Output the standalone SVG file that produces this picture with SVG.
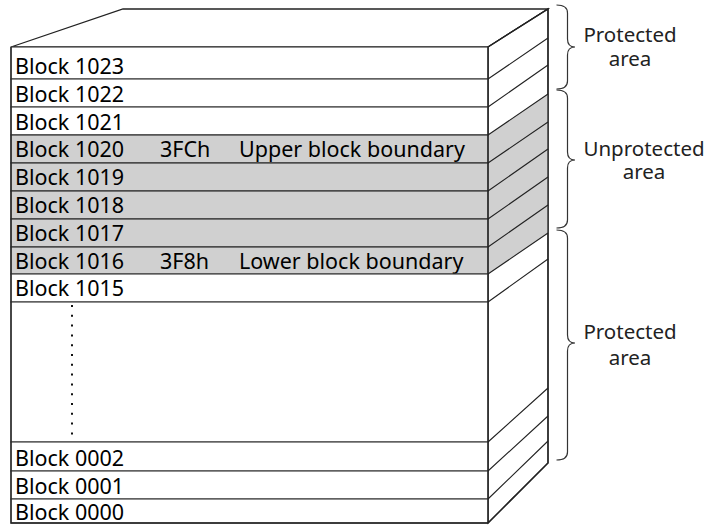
<svg xmlns="http://www.w3.org/2000/svg" width="711" height="527" viewBox="0 0 711 527">
<style>
.row{fill:#fff;stroke:#444;stroke-width:1.2}
.sel{fill:#d0d0d0;stroke:#333;stroke-width:1.2}
.edge{fill:none;stroke:#222;stroke-width:1.3}
.diag{fill:none;stroke:#222;stroke-width:1.1}
.brace{fill:none;stroke:#333;stroke-width:1.2}
text{font-family:"Noto Sans","Open Sans","DejaVu Sans",sans-serif;font-size:21.5px;fill:#000}
.lbl{text-anchor:middle;font-size:20.5px;fill:#222}
</style>
<rect width="711" height="527" fill="#fff"/>
<g id="top-face"><polygon points="11,47 123,9 548,9 488,47" fill="#fff" stroke="#222" stroke-width="1.3"/></g>
<g id="side-face">
<polygon points="488,47 548,9 548,463 488,523" fill="#fff" stroke="#222" stroke-width="1.3"/>
<polygon points="488,135 548,94 548,233 488,274" fill="#d0d0d0" stroke="none"/>
</g>
<g id="b1023"><rect class="row" x="11" y="47" width="477" height="32"/><text x="15" y="74">Block 1023</text></g>
<g id="b1022"><rect class="row" x="11" y="79" width="477" height="28"/><text x="15" y="102">Block 1022</text></g>
<g id="b1021"><rect class="row" x="11" y="107" width="477" height="28"/><text x="15" y="130">Block 1021</text></g>
<g id="b1020"><rect class="sel" x="11" y="135" width="477" height="28"/><text x="15" y="157">Block 1020</text><text x="160" y="157">3FCh</text><text x="239" y="157">Upper block boundary</text></g>
<g id="b1019"><rect class="sel" x="11" y="163" width="477" height="28"/><text x="15" y="185">Block 1019</text></g>
<g id="b1018"><rect class="sel" x="11" y="191" width="477" height="28"/><text x="15" y="213">Block 1018</text></g>
<g id="b1017"><rect class="sel" x="11" y="219" width="477" height="28"/><text x="15" y="241">Block 1017</text></g>
<g id="b1016"><rect class="sel" x="11" y="247" width="477" height="27"/><text x="15" y="269">Block 1016</text><text x="160" y="269">3F8h</text><text x="239" y="269">Lower block boundary</text></g>
<g id="b1015"><rect class="row" x="11" y="274" width="477" height="28"/><text x="15" y="296">Block 1015</text></g>
<g id="gap"><rect class="row" x="11" y="302" width="477" height="140"/><line x1="72" y1="305" x2="72" y2="438" stroke="#111" stroke-width="2" stroke-dasharray="2 7.8"/></g>
<g id="b0002"><rect class="row" x="11" y="442" width="477" height="29"/><text x="15" y="466">Block 0002</text></g>
<g id="b0001"><rect class="row" x="11" y="471" width="477" height="28"/><text x="15" y="494">Block 0001</text></g>
<g id="b0000"><rect class="row" x="11" y="499" width="477" height="24"/><text x="15" y="520">Block 0000</text></g>
<g id="connectors">
<path class="diag" d="M488,79 L548,38 M488,107 L548,65 M488,135 L548,94 M488,163 L548,122 M488,191 L548,149 M488,219 L548,177 M488,247 L548,205 M488,274 L548,233 M488,302 L548,259 M488,442 L548,388 M488,471 L548,416 M488,499 L548,441"/>
<polyline class="edge" points="11,47 11,523 488,523 548,463 548,9 488,47 488,523"/>
</g>
<g id="brace-top">
<path class="brace" d="M556.5,5 Q567.5,5 567.5,13 L567.5,39 Q567.5,47 575,47 Q567.5,47 567.5,55 L567.5,81 Q567.5,89 556.5,89"/>
<text class="lbl" x="630" y="42">Protected</text><text class="lbl" x="630" y="66">area</text>
</g>
<g id="brace-mid">
<path class="brace" d="M556.5,90 Q567.5,90 567.5,98 L567.5,152 Q567.5,160 575,160 Q567.5,160 567.5,168 L567.5,220 Q567.5,228 556.5,228"/>
<text class="lbl" x="644" y="156">Unprotected</text><text class="lbl" x="644" y="179">area</text>
</g>
<g id="brace-bottom">
<path class="brace" d="M556.5,230 Q567.5,230 567.5,238 L567.5,335 Q567.5,343 575,343 Q567.5,343 567.5,351 L567.5,452 Q567.5,460 556.5,460"/>
<text class="lbl" x="630" y="339">Protected</text><text class="lbl" x="630" y="365">area</text>
</g>
</svg>
